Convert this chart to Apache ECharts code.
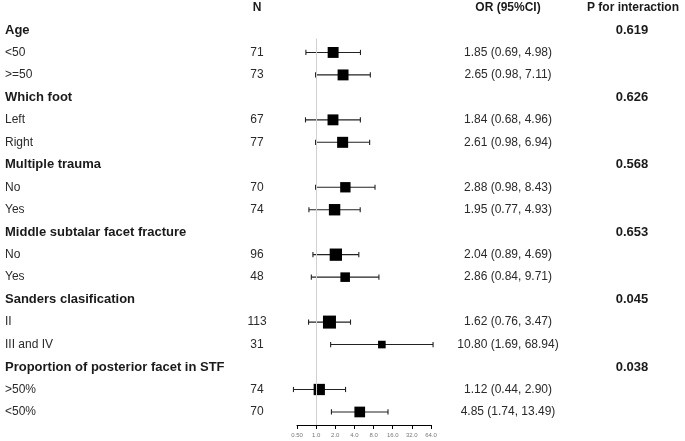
<!DOCTYPE html>
<html>
<head>
<meta charset="utf-8">
<script src="https://cdn.jsdelivr.net/npm/echarts@6/dist/echarts.min.js"></script>
<style>
  html, body { margin: 0; padding: 0; background: #fff; }
  #main { width: 685px; height: 441px; }
</style>
</head>
<body>
<div id="main"></div>
<script>
// subgroup table
var groups = ['Age', 'Which foot', 'Multiple trauma', 'Middle subtalar facet fracture', 'Sanders clasification', 'Proportion of posterior facet in STF'];
var pInteraction = ['0.619', '0.626', '0.568', '0.653', '0.045', '0.038'];
var subgroups = [['<50', '>=50'], ['Left', 'Right'], ['No', 'Yes'], ['No', 'Yes'], ['II', 'III and IV'], ['>50%', '<50%']];
var counts = [[71, 73], [67, 77], [70, 74], [96, 48], [113, 31], [74, 70]];
var oddsRatio = [[1.85, 2.65], [1.84, 2.61], [2.88, 1.95], [2.04, 2.86], [1.62, 10.80], [1.12, 4.85]];
var lower = [[0.69, 0.98], [0.68, 0.98], [0.98, 0.77], [0.89, 0.84], [0.76, 1.69], [0.44, 1.74]];
var upper = [[4.98, 7.11], [4.96, 6.94], [8.43, 4.93], [4.69, 9.71], [3.47, 68.94], [2.90, 13.49]];
var xTicks = [0.5, 1, 2, 4, 8, 16, 32, 64];

var FONT = '"Liberation Sans", Arial, sans-serif';

// build row list (row index = vertical slot, header at -1)
var textRows = [];
var ciRows = [];
var row = 0;
for (var g = 0; g < groups.length; g++) {
    textRows.push({ value: [1, row], kind: 'group', label: groups[g], p: pInteraction[g] });
    row++;
    for (var s = 0; s < subgroups[g].length; s++) {
        var or = oddsRatio[g][s], lo = lower[g][s], hi = upper[g][s];
        textRows.push({
            value: [1, row], kind: 'sub', label: subgroups[g][s], n: String(counts[g][s]),
            ci: or.toFixed(2) + ' (' + lo.toFixed(2) + ', ' + hi.toFixed(2) + ')'
        });
        ciRows.push([or, row, lo, hi]);
        row++;
    }
}
var lastRow = row - 1;

var myChart = echarts.init(document.getElementById('main'));

function txt(x, y, s, opt) {
    return {
        type: 'text',
        style: {
            x: x, y: y, text: s,
            font: (opt.bold ? 'bold ' : '') + opt.size + 'px ' + FONT,
            fill: opt.color || '#2a2a2a',
            align: opt.align || 'left',
            verticalAlign: 'middle'
        }
    };
}

var option = {
    animation: false,
    grid: { left: 297, right: 254, top: 7.5, bottom: 16 },
    xAxis: {
        type: 'log',
        logBase: 2,
        min: xTicks[0],
        max: xTicks[xTicks.length - 1],
        interval: 1,
        position: 'bottom',
        axisLine: { onZero: false, lineStyle: { color: '#000', width: 1 } },
        axisTick: { length: 4, lineStyle: { color: '#000' } },
        axisLabel: {
            fontSize: 6, color: '#777', margin: 7, fontFamily: FONT,
            formatter: function (v) { return v < 1 ? v.toFixed(2) : v.toFixed(1); }
        },
        splitLine: { show: false }
    },
    yAxis: {
        type: 'value',
        min: -1,
        max: lastRow + 0.58,
        inverse: true,
        show: false
    },
    series: [
        {
            // reference line at OR = 1
            type: 'line',
            data: [],
            markLine: {
                silent: true,
                symbol: 'none',
                label: { show: false },
                lineStyle: { color: '#d0d0d0', width: 1, type: 'solid' },
                data: [[{ coord: [1, 0.38] }, { coord: [1, lastRow + 0.58] }]]
            }
        },
        {
            // confidence intervals and boxes
            type: 'custom',
            data: ciRows,
            renderItem: function (params, api) {
                var or = api.value(0), r = api.value(1), lo = api.value(2), hi = api.value(3);
                var pLo = api.coord([lo, r]);
                var pHi = api.coord([hi, r]);
                var pOr = api.coord([or, r]);
                var se = (Math.log(hi) - Math.log(lo)) / 3.92;
                var size = Math.min(13, 3.8 + 3.6 / se);
                var capH = 2.6;
                var ls = { stroke: '#222', lineWidth: 1.1 };
                return {
                    type: 'group',
                    children: [
                        { type: 'line', shape: { x1: pLo[0], y1: pLo[1], x2: pHi[0], y2: pHi[1] }, style: ls },
                        { type: 'line', shape: { x1: pLo[0], y1: pLo[1] - capH, x2: pLo[0], y2: pLo[1] + capH }, style: ls },
                        { type: 'line', shape: { x1: pHi[0], y1: pHi[1] - capH, x2: pHi[0], y2: pHi[1] + capH }, style: ls },
                        { type: 'rect', shape: { x: pOr[0] - size / 2, y: pOr[1] - size / 2, width: size, height: size }, style: { fill: '#000' } }
                    ]
                };
            }
        },
        {
            // table text
            type: 'custom',
            data: textRows,
            renderItem: function (params, api) {
                var item = textRows[params.dataIndex];
                var y = api.coord([1, api.value(1)])[1];
                var kids = [];
                if (params.dataIndex === 0) {
                    var yh = api.coord([1, -1])[1];
                    kids.push(txt(257, yh, 'N', { bold: true, size: 12, color: '#1a1a1a', align: 'center' }));
                    kids.push(txt(508, yh, 'OR (95%CI)', { bold: true, size: 12, color: '#1a1a1a', align: 'center' }));
                    kids.push(txt(633, yh, 'P for interaction', { bold: true, size: 12, color: '#1a1a1a', align: 'center' }));
                }
                if (item.kind === 'group') {
                    kids.push(txt(5, y, item.label, { bold: true, size: 13, color: '#1a1a1a' }));
                    kids.push(txt(632, y, item.p, { bold: true, size: 13, color: '#1a1a1a', align: 'center' }));
                } else {
                    kids.push(txt(5, y, item.label, { size: 12 }));
                    kids.push(txt(257, y, item.n, { size: 12, align: 'center' }));
                    kids.push(txt(508, y, item.ci, { size: 12, align: 'center' }));
                }
                return { type: 'group', children: kids };
            }
        }
    ]
};
myChart.setOption(option);
</script>
</body>
</html>
